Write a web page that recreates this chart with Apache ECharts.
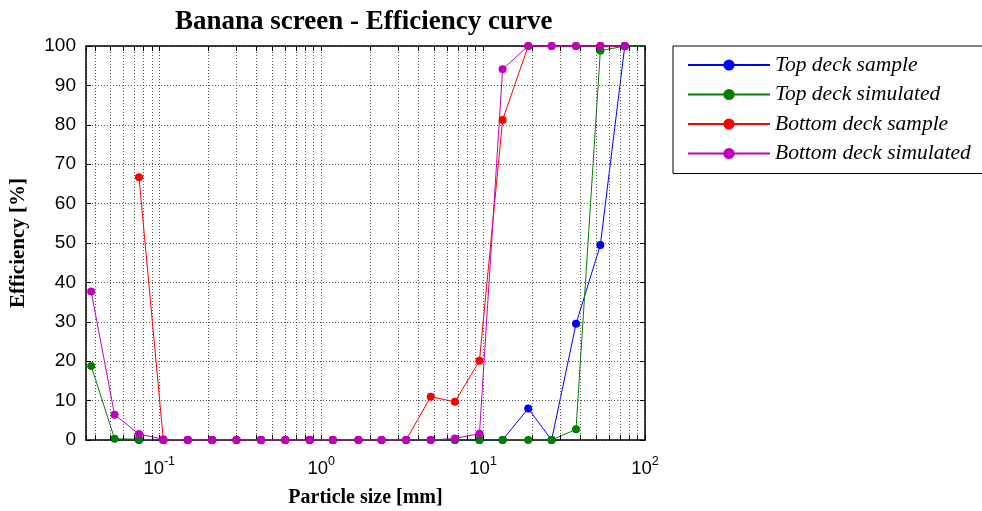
<!DOCTYPE html>
<html>
<head>
<meta charset="utf-8">
<script src="https://cdn.jsdelivr.net/npm/echarts@6/dist/echarts.min.js"></script>
<style>html,body{margin:0;padding:0;background:#fff;}#c{width:982px;height:511px;}</style>
</head>
<body>
<div id="c"></div>
<script>
// Particle sizes (mm)
const sizes = [0.038, 0.053, 0.075, 0.106, 0.15, 0.212, 0.3, 0.425, 0.6, 0.85, 1.18, 1.7, 2.36, 3.35, 4.75, 6.7, 9.5, 13.2, 19, 26.5, 37.5, 53, 75, 106];
// Efficiency (%)
const topDeckSample      = [null, null, 0, 0, 0, 0, 0, 0, 0, 0, 0, 0, 0, 0, 0, 0, 0, 0, 8, 0, 29.5, 49.5, 100, null];
const topDeckSimulated   = [18.8, 0.3, 0.2, 0, 0, 0, 0, 0, 0, 0, 0, 0, 0, 0, 0, 0, 0, 0, 0, 0, 2.7, 98.8, 100, 100];
const bottomDeckSample   = [null, null, 66.7, 0, 0, 0, 0, 0, 0, 0, 0, 0, 0, 0, 11, 9.7, 20.1, 81.2, 100, 100, 100, 100, 100, null];
const bottomDeckSimulated= [37.7, 6.4, 1.5, 0.2, 0, 0, 0, 0, 0, 0, 0, 0, 0, 0, 0, 0.4, 1.6, 94.1, 100, 100, 100, 100, 100, null];
const seriesNames = ['Top deck sample', 'Top deck simulated', 'Bottom deck sample', 'Bottom deck simulated'];
const seriesValues = [topDeckSample, topDeckSimulated, bottomDeckSample, bottomDeckSimulated];
const seriesColors = ['#0000ff', '#008000', '#ff0000', '#bf00bf'];
const xMin = 0.0353, xMax = 100;
const yTicks = [0, 10, 20, 30, 40, 50, 60, 70, 80, 90, 100];

// minor log grid positions (2..9 × 10^k inside the range)
const minorVals = [];
for (let k = -2; k <= 1; k++) {
  for (let m = 2; m <= 9; m++) {
    const v = m * Math.pow(10, k);
    if (v > xMin && v < xMax) minorVals.push(+v.toPrecision(3));
  }
}

const chart = echarts.init(document.getElementById('c'), null, {renderer: 'canvas'});

const gridDot = {color: '#5a5a5a', type: [1, 2], width: 1};

const mkData = [];
minorVals.forEach(v => {
  mkData.push({xAxis: v, lineStyle: gridDot});
});
minorVals.forEach(v => {
  mkData.push([{coord: [v, 0], lineStyle: {color: '#000', type: 'solid', width: 1}}, {coord: [v, 1.3]}]);
  mkData.push([{coord: [v, 100], lineStyle: {color: '#000', type: 'solid', width: 1}}, {coord: [v, 98.7]}]);
});

const series = [{
  name: 'grid', type: 'line', data: [], silent: true, z: 1,
  markLine: {silent: true, symbol: 'none', animation: false, label: {show: false}, data: mkData}
}];
seriesNames.forEach((n, i) => {
  series.push({
    name: n, type: 'line', z: 3 + i,
    data: sizes.map((s, j) => seriesValues[i][j] == null ? null : [s, seriesValues[i][j]]).filter(d => d),
    symbol: 'circle', symbolSize: 8, showAllSymbol: true,
    lineStyle: {color: seriesColors[i], width: 1},
    itemStyle: {color: seriesColors[i]},
    clip: true
  });
});

const expFmt = v => {
  const l = Math.log10(v), e = Math.round(l);
  if (Math.abs(l - e) > 1e-6) return '';
  return '{b|10}{s|' + e + '}';
};

chart.setOption({
  animation: false,
  backgroundColor: '#fff',
  graphic: [{
    type: 'text', left: 175, top: 9,
    style: {text: 'Banana screen - Efficiency curve', fontFamily: 'Liberation Serif', fontWeight: 'bold', fontSize: 27, fill: '#000'}
  }],
  grid: {left: 86, top: 46, width: 559, height: 394, show: false, containLabel: false, outerBoundsMode: 'none'},
  legend: {
    data: seriesNames,
    orient: 'vertical', left: 673, top: 46,
    padding: [8, 30, 9, 14],
    itemWidth: 82, itemHeight: 14, itemGap: 7.5,
    borderColor: '#000', borderWidth: 1,
    textStyle: {fontFamily: 'Liberation Serif', fontStyle: 'italic', fontSize: 21.5, color: '#000'}
  },
  xAxis: [{
    type: 'log', logBase: 10, min: xMin, max: xMax,
    name: 'Particle size [mm]', nameLocation: 'middle', nameGap: 48,
    nameTextStyle: {fontFamily: 'Liberation Serif', fontWeight: 'bold', fontSize: 20, color: '#000'},
    axisLine: {show: true, onZero: false, lineStyle: {color: '#000', width: 1.5}},
    axisTick: {show: true, inside: true, length: 5, lineStyle: {color: '#000'}},
    axisLabel: {
      formatter: expFmt, margin: 15, showMinLabel: true,
      rich: {
        b: {fontFamily: 'Liberation Sans', fontSize: 18.5, color: '#000'},
        s: {fontFamily: 'Liberation Sans', fontSize: 12.5, color: '#000', padding: [0, 0, 14, 0]}
      }
    },
    splitLine: {show: true, lineStyle: gridDot}
  }, {
    type: 'log', logBase: 10, min: xMin, max: xMax, position: 'top',
    axisLine: {show: true, onZero: false, lineStyle: {color: '#000', width: 1.5}},
    axisTick: {show: true, inside: true, length: 5, lineStyle: {color: '#000'}},
    axisLabel: {show: false}, splitLine: {show: false}
  }],
  yAxis: [{
    type: 'value', min: 0, max: 100, interval: 10,
    name: 'Efficiency [%]', nameLocation: 'middle', nameGap: 57,
    nameTextStyle: {fontFamily: 'Liberation Serif', fontWeight: 'bold', fontSize: 21, color: '#000'},
    axisLine: {show: true, onZero: false, lineStyle: {color: '#000', width: 1.5}},
    axisTick: {show: true, inside: true, length: 5, lineStyle: {color: '#000'}},
    axisLabel: {fontFamily: 'Liberation Sans', fontSize: 19, color: '#000', margin: 10,
      formatter: v => yTicks.includes(v) ? String(v) : ''},
    splitLine: {show: true, lineStyle: gridDot}
  }, {
    type: 'value', min: 0, max: 100, interval: 10, position: 'right',
    axisLine: {show: true, onZero: false, lineStyle: {color: '#000', width: 1.5}},
    axisTick: {show: true, inside: true, length: 5, lineStyle: {color: '#000'}},
    axisLabel: {show: false}, splitLine: {show: false}
  }],
  series: series
});
</script>
</body>
</html>
